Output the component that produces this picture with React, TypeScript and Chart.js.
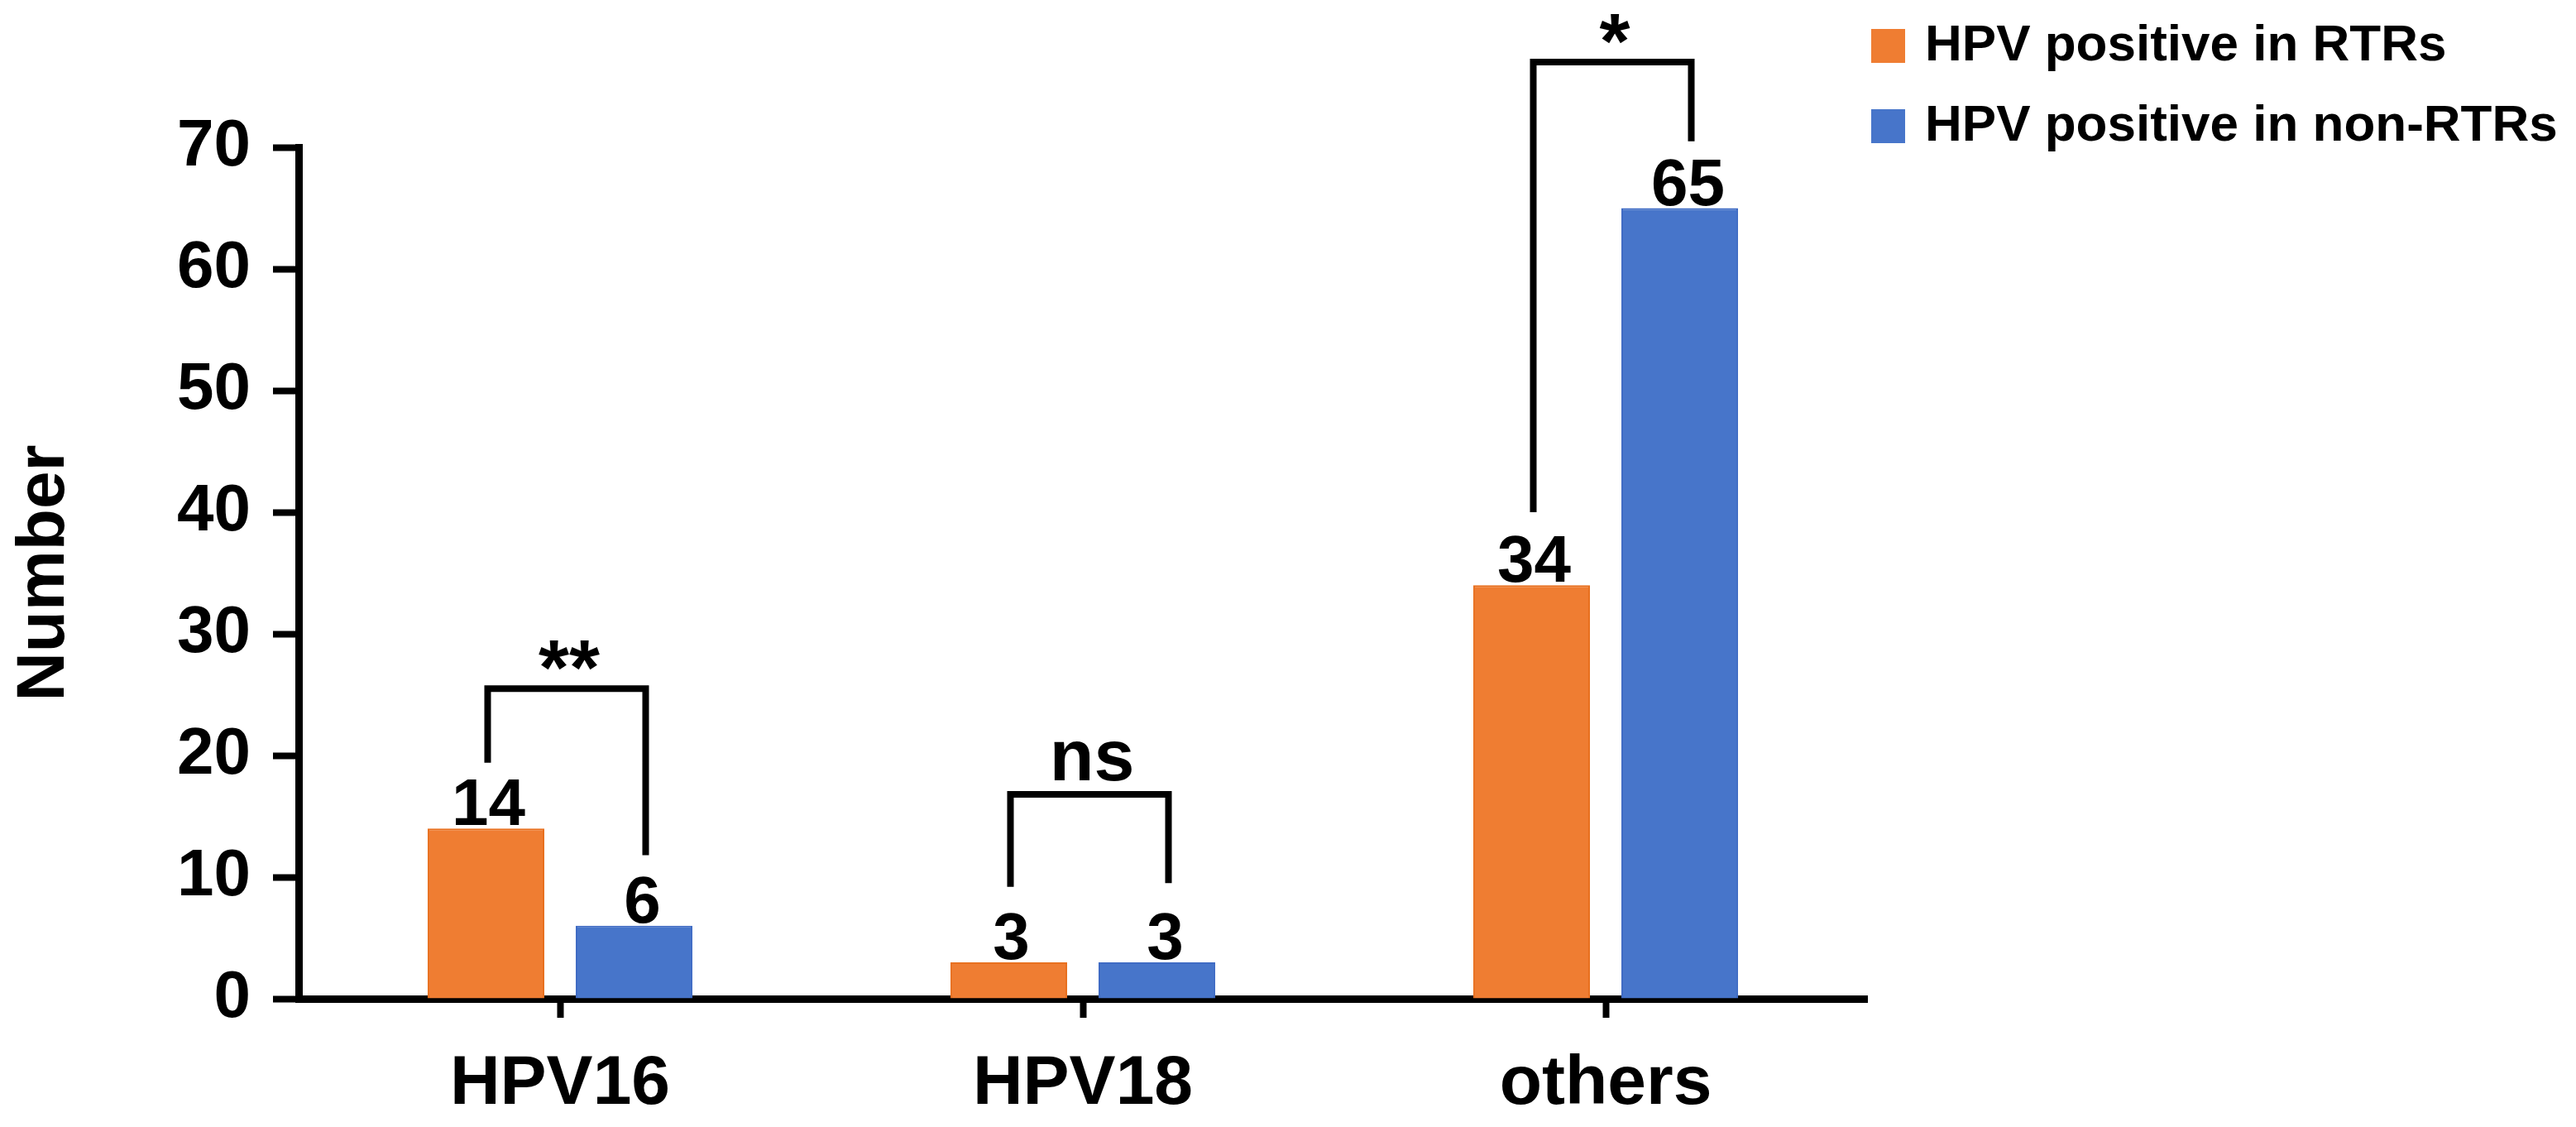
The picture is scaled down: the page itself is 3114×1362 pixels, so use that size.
import React, { useEffect, useRef } from 'react';
import { Chart, registerables } from 'chart.js';

Chart.register(...registerables);

const categories = ['HPV16', 'HPV18', 'others'];
const seriesNames = ['HPV positive in RTRs', 'HPV positive in non-RTRs'];
const rtrCounts = [14, 3, 34];
const nonRtrCounts = [6, 3, 65];
const seriesColors = ['#EF7D32', '#4775CA'];
const seriesBorders = ['#E8701F', '#3F6BC4'];

// significance brackets (values in axis units)
const sigLabels = ['**', 'ns', '*'];
const bracketTop = [25.5, 16.8, 77];
const bracketLeftEnd = [19.4, 9.2, 40];
const bracketRightEnd = [11.8, 9.5, 70.5];

const FONT = '"Liberation Sans", Arial, Helvetica, sans-serif';

const valueLabels = {
  id: 'valueLabels',
  afterDatasetsDraw(chart: any) {
    const { ctx } = chart;
    ctx.save();
    ctx.font = `bold 80px ${FONT}`;
    ctx.fillStyle = '#000';
    ctx.textAlign = 'center';
    ctx.textBaseline = 'alphabetic';
    chart.data.datasets.forEach((ds: any, di: number) => {
      const meta = chart.getDatasetMeta(di);
      meta.data.forEach((bar: any, i: number) => {
        const shift = di === 0 ? 3 : 10;
        ctx.fillText(String(ds.data[i]), bar.x + shift, bar.y - 4);
      });
    });
    ctx.restore();
  },
};

const sigBrackets = {
  id: 'sigBrackets',
  afterDatasetsDraw(chart: any) {
    const { ctx } = chart;
    const y = chart.scales.y;
    const left = chart.getDatasetMeta(0).data;
    const right = chart.getDatasetMeta(1).data;
    ctx.save();
    ctx.strokeStyle = '#000';
    ctx.fillStyle = '#000';
    ctx.lineWidth = 8;
    ctx.lineJoin = 'miter';
    ctx.lineCap = 'butt';
    categories.forEach((_, i) => {
      const x1 = left[i].x + 2;
      const x2 = right[i].x + 14;
      const yt = y.getPixelForValue(bracketTop[i]);
      ctx.beginPath();
      ctx.moveTo(x1, y.getPixelForValue(bracketLeftEnd[i]));
      ctx.lineTo(x1, yt);
      ctx.lineTo(x2, yt);
      ctx.lineTo(x2, y.getPixelForValue(bracketRightEnd[i]));
      ctx.stroke();

      const label = sigLabels[i];
      ctx.font = `bold ${label.includes('*') ? 95 : 88}px ${FONT}`;
      ctx.textAlign = 'center';
      ctx.textBaseline = 'alphabetic';
      const m = ctx.measureText(label);
      const cy = yt - 40;
      ctx.fillText(label, (x1 + x2) / 2 + 3, cy + (m.actualBoundingBoxAscent - m.actualBoundingBoxDescent) / 2);
    });
    ctx.restore();
  },
};

const sideLegend = {
  id: 'sideLegend',
  afterDraw(chart: any) {
    const { ctx, chartArea } = chart;
    ctx.save();
    ctx.font = `bold 62px ${FONT}`;
    ctx.textAlign = 'left';
    ctx.textBaseline = 'middle';
    chart.data.datasets.forEach((ds: any, i: number) => {
      const bx = chartArea.right + 5;
      const by = 27 + i * 97;
      ctx.fillStyle = ds.backgroundColor;
      ctx.fillRect(bx, by, 41, 41);
      ctx.fillStyle = '#000';
      ctx.fillText(ds.label, bx + 65, by + 21);
    });
    ctx.restore();
  },
};

export default function App() {
  const canvasRef = useRef<HTMLCanvasElement | null>(null);
  const chartRef = useRef<Chart | null>(null);

  useEffect(() => {
    if (!canvasRef.current) return;
    const counts = [rtrCounts, nonRtrCounts];
    chartRef.current = new Chart(canvasRef.current, {
      type: 'bar',
      data: {
        labels: categories,
        datasets: seriesNames.map((name, i) => ({
          label: name,
          data: counts[i],
          backgroundColor: seriesColors[i],
          borderColor: seriesBorders[i],
          borderWidth: 2,
          barPercentage: 0.788,
          categoryPercentage: 0.5665,
        })),
      },
      options: {
        responsive: false,
        animation: false,
        events: [],
        layout: { padding: { top: 170, left: 0, right: 849, bottom: 0 } },
        plugins: {
          legend: { display: false },
          tooltip: { enabled: false },
        },
        scales: {
          x: {
            offset: true,
            grid: {
              display: true,
              drawOnChartArea: false,
              offset: false,
              tickLength: 23,
              tickWidth: 8,
              tickColor: '#000',
            },
            border: { display: true, color: '#000', width: 9 },
            ticks: {
              color: '#000',
              padding: 30,
              font: { family: FONT, size: 84, weight: 'bold' },
            },
            afterFit: (s: any) => {
              s.height = 147;
            },
          },
          y: {
            min: 0,
            max: 70,
            ticks: {
              stepSize: 10,
              color: '#000',
              padding: 27,
              font: { family: FONT, size: 80, weight: 'bold' },
            },
            grid: {
              drawOnChartArea: false,
              tickLength: 31,
              tickWidth: 8,
              tickColor: '#000',
            },
            border: { display: true, color: '#000', width: 9 },
            title: {
              display: true,
              text: 'Number',
              color: '#000',
              padding: 0,
              font: { family: FONT, size: 82, weight: 'bold', lineHeight: 1.12 },
            },
            afterFit: (s: any) => {
              s.width = 353;
            },
          },
        },
      },
      plugins: [valueLabels, sigBrackets, sideLegend],
    } as any);

    return () => {
      chartRef.current?.destroy();
      chartRef.current = null;
    };
  }, []);

  return (
    <div style={{ width: 3098, height: 1346 }}>
      <canvas ref={canvasRef} width={3098} height={1346} style={{ display: 'block' }} />
    </div>
  );
}
